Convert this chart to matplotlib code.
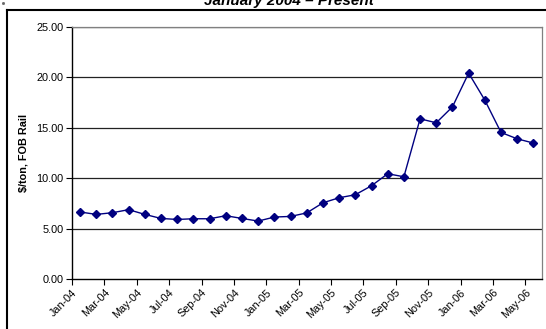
import matplotlib
matplotlib.use("Agg")
import matplotlib.pyplot as plt
from matplotlib.lines import Line2D

plt.rcParams['font.family'] = ['Liberation Sans', 'DejaVu Sans']

# Monthly price, Jan-04 through May-06
months = ['Jan-04', 'Feb-04', 'Mar-04', 'Apr-04', 'May-04', 'Jun-04', 'Jul-04', 'Aug-04',
          'Sep-04', 'Oct-04', 'Nov-04', 'Dec-04', 'Jan-05', 'Feb-05', 'Mar-05', 'Apr-05',
          'May-05', 'Jun-05', 'Jul-05', 'Aug-05', 'Sep-05', 'Oct-05', 'Nov-05', 'Dec-05',
          'Jan-06', 'Feb-06', 'Mar-06', 'Apr-06', 'May-06']
price = [6.64, 6.40, 6.57, 6.87, 6.40, 6.00, 5.90, 5.97, 5.97, 6.27, 6.00, 5.74, 6.14,
         6.20, 6.55, 7.55, 8.05, 8.35, 9.24, 10.43, 10.13, 15.87, 15.48, 17.06, 20.40,
         17.72, 14.52, 13.89, 13.47]
yticks = [0, 5, 10, 15, 20, 25]

W, H = 546, 329
fig = plt.figure(figsize=(W / 100, H / 100), dpi=100)
fig.patch.set_facecolor('white')

# plot area in pixels: left 72, right 541.5, top 26.7, bottom 279
ax = fig.add_axes([72 / W, 1 - 279 / H, (541.5 - 72) / W, (279 - 26.7) / H])

xs = [i + 0.5 for i in range(len(price))]
ax.plot(xs, price, color='#000080', lw=1.0, marker='D', ms=3.8,
        mfc='#000080', mec='#000080', zorder=3)

ax.set_xlim(0, len(price))
ax.set_ylim(0, 25)
ax.set_yticks(yticks)
ax.set_yticklabels(['%.2f' % v for v in yticks], fontsize=7.8)
ax.set_xticks(range(0, len(price), 2))
ax.set_xticklabels(months[::2], rotation=45, ha='right', rotation_mode='anchor',
                   fontsize=7.8)
ax.tick_params(axis='x', length=4, width=0.8, direction='out', pad=2)
ax.tick_params(axis='y', length=4, width=0.8, direction='out', pad=2)

for v in yticks[1:]:
    ax.axhline(v, color='#222222', lw=0.9, zorder=1)

for side in ['top', 'right']:
    ax.spines[side].set_color('#808080')
    ax.spines[side].set_linewidth(0.9)
for side in ['left', 'bottom']:
    ax.spines[side].set_color('black')
    ax.spines[side].set_linewidth(1.0)

ax.set_ylabel('$/ton, FOB Rail', fontsize=7.8, fontweight='bold', labelpad=6)

# chart title sits mostly above the top edge
fig.text(289 / W, 1 - 5 / H, 'January 2004 \u2013 Present', ha='center', va='baseline',
         fontsize=11, fontweight='bold', style='italic')

# outer chart border
fig.add_artist(Line2D([6.7 / W, 6.7 / W], [0, 1 - 9.5 / H], transform=fig.transFigure,
                      color='black', lw=1.5))
fig.add_artist(Line2D([6.7 / W, 1], [1 - 9.5 / H, 1 - 9.5 / H], transform=fig.transFigure,
                      color='black', lw=1.5))
fig.add_artist(Line2D([3 / W], [1 - 3 / H], transform=fig.transFigure,
                      marker='s', ms=1, color='#666666', lw=0))

fig.savefig('out.png', dpi=100)
